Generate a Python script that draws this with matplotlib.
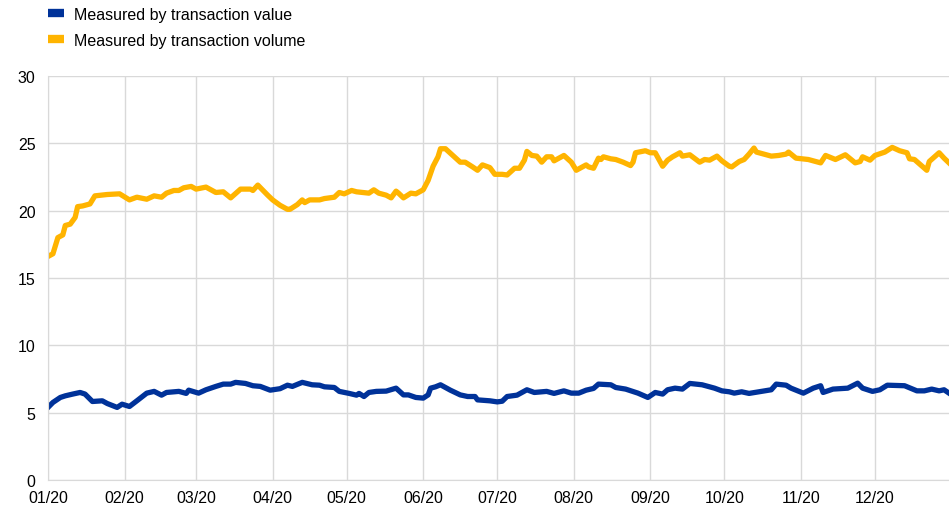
import matplotlib
matplotlib.use("Agg")
import matplotlib.pyplot as plt
import matplotlib.dates as mdates
from matplotlib.lines import Line2D
import pandas as pd

# days since 01/01/2020
vol_day = [0, 2, 4, 6, 7, 9, 11, 12, 14, 17, 18, 19, 24, 29, 33, 36, 40, 43, 46, 48,
           51, 53, 55, 58, 60, 64, 68, 71, 74, 78, 82, 83, 85, 89, 91, 94, 97, 98, 101, 103,
           104, 106, 110, 112, 116, 118, 120, 123, 125, 130, 132, 134, 137, 139, 141, 142, 144, 147, 149, 152,
           154, 156, 158, 159, 161, 164, 167, 169, 172, 174, 176, 179, 181, 184, 186, 189, 191, 193, 194, 196,
           198, 200, 202, 204, 205, 209, 212, 214, 218, 219, 221, 223, 224, 225, 228, 230, 233, 236, 237, 238,
           242, 244, 246, 249, 251, 253, 256, 257, 260, 264, 266, 268, 271, 273, 276, 277, 280, 282, 284, 286,
           287, 293, 296, 299, 300, 303, 308, 313, 315, 319, 323, 327, 329, 330, 333, 335, 339, 342, 345, 348,
           349, 351, 356, 357, 361, 363, 365]
vol_val = [16.6, 16.8, 18.0, 18.2, 18.9, 19.0, 19.5, 20.3, 20.35, 20.5, 20.8, 21.1, 21.2, 21.25, 20.8, 21.0, 20.85, 21.1, 21.0, 21.3,
           21.5, 21.5, 21.7, 21.8, 21.6, 21.75, 21.35, 21.4, 20.95, 21.6, 21.6, 21.5, 21.9, 21.15, 20.8, 20.4, 20.1, 20.1, 20.45, 20.8,
           20.6, 20.8, 20.8, 20.9, 21.0, 21.35, 21.25, 21.5, 21.4, 21.3, 21.55, 21.3, 21.15, 20.95, 21.45, 21.3, 20.95, 21.3, 21.25, 21.55,
           22.25, 23.3, 24.0, 24.6, 24.6, 24.1, 23.6, 23.6, 23.25, 23.0, 23.4, 23.2, 22.7, 22.7, 22.65, 23.15, 23.15, 23.75, 24.4, 24.1,
           24.05, 23.6, 24.0, 24.0, 23.7, 24.1, 23.6, 23.0, 23.4, 23.25, 23.15, 23.9, 23.8, 24.0, 23.85, 23.8, 23.6, 23.35, 23.6, 24.3,
           24.45, 24.3, 24.3, 23.3, 23.75, 24.0, 24.3, 24.05, 24.15, 23.6, 23.8, 23.75, 24.05, 23.7, 23.3, 23.25, 23.65, 23.8, 24.2, 24.65,
           24.35, 24.05, 24.1, 24.2, 24.35, 23.9, 23.8, 23.55, 24.1, 23.8, 24.15, 23.55, 23.65, 24.0, 23.75, 24.1, 24.35, 24.7, 24.45, 24.3,
           23.85, 23.8, 23.0, 23.65, 24.3, 23.9, 23.55]

val_day = [0, 2, 5, 7, 10, 13, 15, 18, 22, 24, 28, 30, 33, 36, 40, 43, 46, 48, 53, 56,
           57, 61, 64, 68, 71, 74, 76, 80, 83, 86, 90, 94, 97, 99, 103, 107, 110, 112, 116, 118,
           122, 125, 126, 128, 130, 133, 137, 141, 144, 146, 149, 152, 154, 155, 157, 159, 163, 167, 170, 173,
           174, 179, 182, 184, 186, 190, 194, 197, 202, 205, 209, 212, 215, 218, 221, 223, 228, 230, 234, 239,
           243, 246, 249, 251, 254, 257, 260, 265, 270, 273, 276, 278, 281, 284, 289, 293, 295, 299, 301, 306,
           310, 313, 314, 318, 324, 328, 330, 334, 337, 340, 347, 352, 355, 358, 361, 363, 365]
val_val = [5.39, 5.76, 6.13, 6.25, 6.38, 6.5, 6.38, 5.83, 5.88, 5.68, 5.39, 5.63, 5.46, 5.88, 6.45, 6.58, 6.3, 6.5, 6.58, 6.43,
           6.67, 6.45, 6.7, 6.95, 7.12, 7.12, 7.25, 7.17, 7.0, 6.95, 6.67, 6.78, 7.04, 6.95, 7.25, 7.07, 7.04, 6.92, 6.87, 6.58,
           6.43, 6.3, 6.43, 6.2, 6.5, 6.58, 6.6, 6.82, 6.32, 6.32, 6.13, 6.08, 6.32, 6.82, 6.92, 7.07, 6.67, 6.32, 6.2, 6.2,
           5.95, 5.88, 5.8, 5.85, 6.2, 6.3, 6.7, 6.5, 6.58, 6.43, 6.62, 6.45, 6.45, 6.67, 6.8, 7.12, 7.07, 6.87, 6.75, 6.45,
           6.13, 6.5, 6.38, 6.7, 6.82, 6.75, 7.17, 7.07, 6.82, 6.62, 6.55, 6.45, 6.55, 6.43, 6.58, 6.7, 7.12, 7.04, 6.82, 6.45,
           6.82, 7.0, 6.5, 6.75, 6.82, 7.19, 6.82, 6.58, 6.7, 7.04, 7.0, 6.62, 6.62, 6.75, 6.62, 6.7, 6.45]

labels = ["Measured by transaction value", "Measured by transaction volume"]
colors = ["#003299", "#FFB400"]

start = pd.Timestamp("2020-01-01")
vol_dates = start + pd.to_timedelta(vol_day, unit="D")
val_dates = start + pd.to_timedelta(val_day, unit="D")

plt.rcParams["font.family"] = ["Liberation Sans", "DejaVu Sans"]

fig = plt.figure(figsize=(9.49, 5.10), dpi=100)
ax = fig.add_axes([48 / 949, 1 - 481 / 510, 901 / 949, (481 - 77) / 510])

ax.plot(val_dates, val_val, color=colors[0], lw=3.8, solid_joinstyle="round")
ax.plot(vol_dates, vol_val, color=colors[1], lw=3.8, solid_joinstyle="round")

ax.set_ylim(0, 30)
ax.set_yticks(range(0, 31, 5))
ax.set_xlim(pd.Timestamp("2020-01-01"), pd.Timestamp("2020-12-31"))
ax.xaxis.set_major_locator(mdates.MonthLocator())
ax.xaxis.set_major_formatter(mdates.DateFormatter("%m/%y"))

ax.grid(True, color="#d9d9d9", lw=1)
ax.set_axisbelow(True)
for s in ["top", "right"]:
    ax.spines[s].set_visible(False)
ax.spines["left"].set_color("#d9d9d9")
ax.spines["bottom"].set_color("#d9d9d9")
ax.tick_params(axis="both", length=0, labelsize=11.5, colors="black")
ax.tick_params(axis="x", pad=7)
ax.tick_params(axis="y", pad=9)

handles = [Line2D([], [], color=c, lw=6, solid_capstyle="butt") for c in colors]
fig.legend(handles, labels, loc="upper left", bbox_to_anchor=(48 / 949, 1 - 8 / 510),
           frameon=False, fontsize=11.5, handlelength=1.0, handletextpad=0.6,
           borderpad=0, borderaxespad=0, labelspacing=0.68)

fig.savefig("out.png", dpi=100)
